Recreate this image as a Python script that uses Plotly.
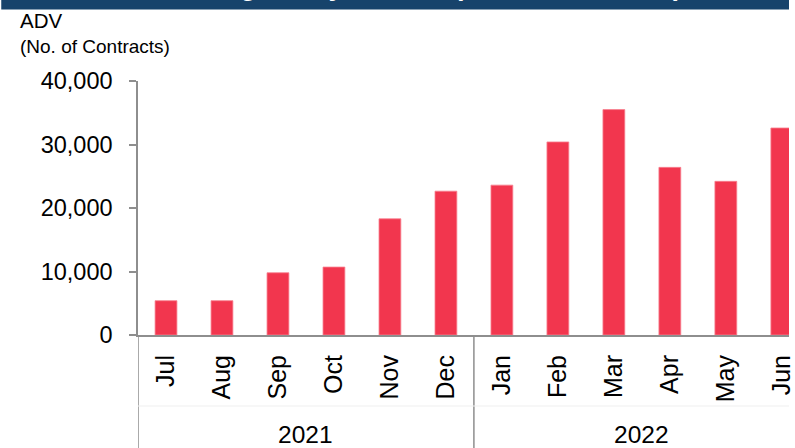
import plotly.graph_objects as go

months = ["Jul", "Aug", "Sep", "Oct", "Nov", "Dec", "Jan", "Feb", "Mar", "Apr", "May", "Jun"]
years = ["2021", "2022"]
year_groups = [(0, 5), (6, 11)]  # index spans of months within each year
adv = [5400, 5400, 9800, 10700, 18300, 22650, 23600, 30400, 35500, 26400, 24200, 32600]
y_ticks = [0, 10000, 20000, 30000, 40000]

W, H = 795, 448
ML, MR, MT, MB = 138, 0, 81, 113
PH = H - MT - MB
PW = W - ML - MR
BAND = 56.5

def py(pix):
    return (H - MB - pix) / PH

def px(pix):
    return (pix - ML) / PW

BAR = "#F2364E"
AXIS = "#8E8E8E"
FONT = "Arial, Liberation Sans, sans-serif"

fig = go.Figure()
fig.add_trace(go.Bar(
    x=months, y=adv, marker=dict(color=BAR, line=dict(color="#F7808F", width=0.8)),
    showlegend=False, hoverinfo="skip",
))

fig.update_layout(
    width=W, height=H,
    margin=dict(l=ML, r=MR, t=MT, b=MB, pad=0),
    paper_bgcolor="white", plot_bgcolor="white",
    bargap=0.61,
    font=dict(family=FONT, color="#000000"),
    xaxis=dict(
        type="category", range=[-0.5, -0.5 + PW / BAND],
        showgrid=False, zeroline=False,
        showline=True, linecolor=AXIS, linewidth=2,
        ticks="", tickangle=-90, tickfont=dict(size=25, family=FONT),
        ticklabelstandoff=8,
    ),
    yaxis=dict(
        range=[0, 40000], tickvals=y_ticks,
        ticktext=[f"{v:,}" for v in y_ticks],
        showgrid=False, zeroline=False,
        showline=True, linecolor=AXIS, linewidth=1.5,
        ticks="outside", ticklen=7, tickcolor=AXIS, tickwidth=1.5,
        tickfont=dict(size=23.5, family=FONT), ticklabelstandoff=12,
    ),
)

shapes = []
# banner at top
shapes.append(dict(type="rect", xref="paper", yref="paper",
                   x0=px(0), x1=px(W), y0=py(9.5), y1=py(-2),
                   fillcolor="#17436B", line=dict(width=0), layer="above"))
# vertical group dividers (axis extension and between years)
for (a, b) in year_groups:
    shapes.append(dict(type="line", xref="x", yref="paper",
                       x0=a - 0.5, x1=a - 0.5, y0=0, y1=py(H + 2),
                       line=dict(color=AXIS, width=1.5)))
shapes.append(dict(type="line", xref="x", yref="paper",
                   x0=year_groups[-1][1] + 0.5, x1=year_groups[-1][1] + 0.5,
                   y0=0, y1=py(H + 2), line=dict(color=AXIS, width=1.5)))
# faint level separator
shapes.append(dict(type="line", xref="paper", yref="paper",
                   x0=px(ML), x1=px(W), y0=py(406), y1=py(406),
                   line=dict(color="#EFEFEF", width=1)))

annotations = []
annotations.append(dict(text="<b>Average Daily Volume (No. of Contracts)</b>",
                        xref="paper", yref="paper", x=px(164), y=py(3),
                        xanchor="left", yanchor="bottom", showarrow=False,
                        font=dict(size=27, color="white", family=FONT)))
annotations.append(dict(text="ADV", xref="paper", yref="paper",
                        x=px(17), y=py(20.5), xanchor="left", yanchor="middle",
                        showarrow=False, font=dict(size=20.5, family=FONT)))
annotations.append(dict(text="(No. of Contracts)", xref="paper", yref="paper",
                        x=px(17), y=py(46), xanchor="left", yanchor="middle",
                        showarrow=False, font=dict(size=19, family=FONT)))
for yr, (a, b) in zip(years, year_groups):
    annotations.append(dict(text=yr, xref="x", yref="paper",
                            x=(a + b) / 2, y=py(434), xanchor="center", yanchor="middle",
                            showarrow=False, font=dict(size=24.5, family=FONT)))

fig.update_layout(shapes=shapes, annotations=annotations)
fig.write_html("out.html")
